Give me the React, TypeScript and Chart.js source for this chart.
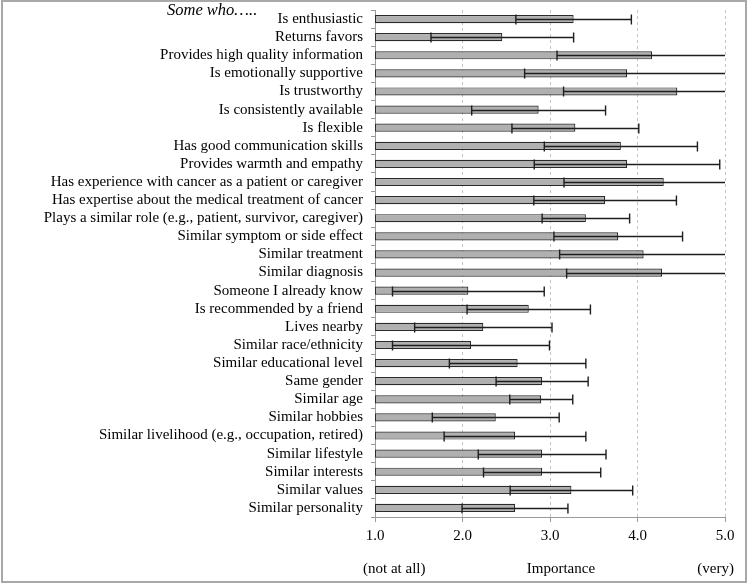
import React, { useEffect, useRef } from 'react';
import { Chart, registerables } from 'chart.js';

Chart.register(...registerables);

const labels = [
  'Is enthusiastic',
  'Returns favors',
  'Provides high quality information',
  'Is emotionally supportive',
  'Is trustworthy',
  'Is consistently available',
  'Is flexible',
  'Has good communication skills',
  'Provides warmth and empathy',
  'Has experience with cancer as a patient or caregiver',
  'Has expertise about the medical treatment of cancer',
  'Plays a similar role (e.g., patient, survivor, caregiver)',
  'Similar symptom or side effect',
  'Similar treatment',
  'Similar diagnosis',
  'Someone I already know',
  'Is recommended by a friend',
  'Lives nearby',
  'Similar race/ethnicity',
  'Similar educational level',
  'Same gender',
  'Similar age',
  'Similar hobbies',
  'Similar livelihood (e.g., occupation, retired)',
  'Similar lifestyle',
  'Similar interests',
  'Similar values',
  'Similar personality',
];

const means = [
  3.27, 2.455, 4.166, 3.88, 4.455, 2.87, 3.29, 3.81, 3.88, 4.30,
  3.63, 3.41, 3.78, 4.07, 4.28, 2.067, 2.757, 2.238, 2.097, 2.63,
  2.91, 2.90, 2.38, 2.60, 2.91, 2.91, 3.245, 2.60,
];

const sds = [
  0.66, 0.815, 1.086, 1.17, 1.30, 0.765, 0.725, 0.875, 1.06, 1.14,
  0.815, 0.50, 0.735, 0.96, 1.09, 0.867, 0.705, 0.785, 0.897, 0.78,
  0.526, 0.36, 0.725, 0.81, 0.73, 0.67, 0.70, 0.605,
];

const xMin = 1;
const xMax = 5;
const titleText = 'Some who\u2026..';
const axisTitle = 'Importance';
const lowAnchor = '(not at all)';
const highAnchor = '(very)';

const errorBarPlugin = {
  id: 'errorBars',
  afterDatasetsDraw(chart: any) {
    const { ctx, scales } = chart;
    const x = scales.x;
    const y = scales.y;
    ctx.save();
    ctx.strokeStyle = '#1e1e1e';
    ctx.lineWidth = 1.4;
    means.forEach((m, i) => {
      const lo = m - sds[i];
      const hi = m + sds[i];
      const yc = Math.round(y.getPixelForValue(i)) + 0.5;
      const x1 = x.getPixelForValue(Math.max(lo, xMin));
      const x2 = x.getPixelForValue(Math.min(hi, xMax));
      ctx.beginPath();
      ctx.moveTo(x1, yc);
      ctx.lineTo(x2, yc);
      if (lo >= xMin) {
        ctx.moveTo(x1, yc - 5);
        ctx.lineTo(x1, yc + 5);
      }
      if (hi <= xMax) {
        ctx.moveTo(x2, yc - 5);
        ctx.lineTo(x2, yc + 5);
      }
      ctx.stroke();
    });
    ctx.restore();
  },
};

const decorPlugin = {
  id: 'decor',
  afterDraw(chart: any) {
    const { ctx } = chart;
    const x = chart.scales.x;
    ctx.save();
    ctx.strokeStyle = '#a8a8a8';
    ctx.lineWidth = 2;
    ctx.strokeRect(2, 1, 744, 581);

    ctx.fillStyle = '#000';
    ctx.font = 'italic 16.5px "Liberation Serif"';
    ctx.textBaseline = 'alphabetic';
    ctx.textAlign = 'left';
    ctx.fillText(titleText, 167, 15);

    ctx.font = '15px "Liberation Serif"';
    ctx.textBaseline = 'middle';
    ctx.textAlign = 'left';
    ctx.fillText(lowAnchor, x.getPixelForValue(xMin) - 12, 569);
    ctx.textAlign = 'center';
    ctx.fillText(axisTitle, (x.getPixelForValue(3) + x.getPixelForValue(3.25)) / 2, 569);
    ctx.textAlign = 'right';
    ctx.fillText(highAnchor, x.getPixelForValue(xMax) + 9, 569);
    ctx.restore();
  },
};

export default function App() {
  const ref = useRef<HTMLCanvasElement | null>(null);

  useEffect(() => {
    if (!ref.current) return;
    const chart = new Chart(ref.current, {
      type: 'bar',
      data: {
        labels,
        datasets: [
          {
            data: means.map((m) => [xMin, m]) as any,
            backgroundColor: '#b0b0b0',
            borderColor: '#2a2a2a',
            borderWidth: 1.2,
            borderSkipped: false,
            barPercentage: 0.45,
            categoryPercentage: 1,
          },
        ],
      },
      options: {
        indexAxis: 'y',
        responsive: false,
        animation: false,
        maintainAspectRatio: false,
        layout: { padding: { top: 10, right: 23, bottom: 0, left: 0 } },
        plugins: {
          legend: { display: false },
          tooltip: { enabled: false },
          title: { display: false },
        },
        scales: {
          x: {
            type: 'linear',
            min: xMin,
            max: xMax,
            afterFit: (s: any) => {
              s.height = 67;
              s.paddingLeft = 0;
              s.paddingRight = 0;
            },
            ticks: {
              stepSize: 1,
              padding: 5,
              color: '#000',
              font: { family: 'Liberation Serif', size: 15 },
              callback: (v: any) => Number(v).toFixed(1),
            },
            grid: {
              color: '#c4c4c4',
              lineWidth: 1,
              drawTicks: true,
              tickLength: 5,
              tickColor: '#999',
            },
            border: { display: true, color: '#9a9a9a', width: 1, dash: [3, 3] },
          },
          y: {
            type: 'category',
            afterFit: (s: any) => {
              s.width = 375;
              s.paddingTop = 0;
              s.paddingBottom = 0;
            },
            ticks: {
              padding: 8,
              color: '#000',
              font: { family: 'Liberation Serif', size: 15 },
              autoSkip: false,
            },
            grid: {
              drawOnChartArea: false,
              drawTicks: true,
              tickLength: 4,
              color: '#999',
              offset: true,
            },
            border: { display: true, color: '#9a9a9a', width: 1 },
          },
        },
      },
      plugins: [errorBarPlugin, decorPlugin],
    });
    return () => chart.destroy();
  }, []);

  return (
    <div style={{ position: 'absolute', left: 0, top: 0, width: 748, height: 584, background: '#fff' }}>
      <canvas ref={ref} width={748} height={584} />
    </div>
  );
}
